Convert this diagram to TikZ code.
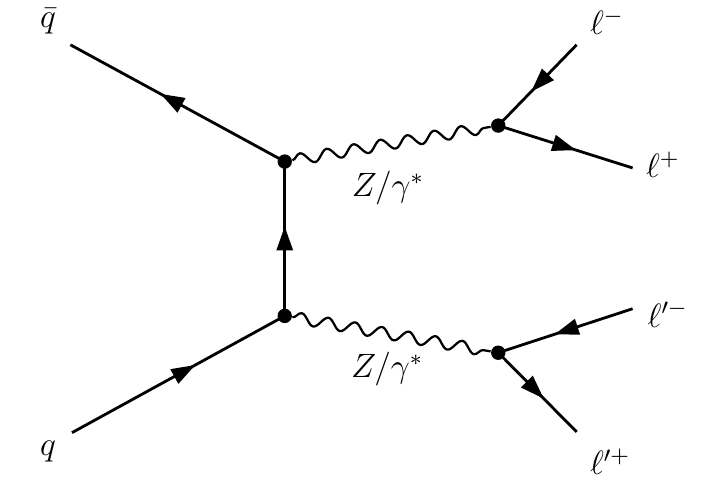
\documentclass[tikz,border=0pt]{standalone}
\usetikzlibrary{arrows.meta,decorations.markings,decorations.pathmorphing}

\begin{document}
\begin{tikzpicture}[
    fermion/.style={line width=1pt, postaction={decorate}, decoration={markings, mark=at position 0.58 with {\arrow{Triangle[length=3mm,width=2mm]}}}},
    boson/.style={line width=0.8pt, decorate, decoration={snake, segment length=3.4mm, amplitude=0.7mm}},
    vtx/.style={circle, fill=black, inner sep=0pt, minimum size=1.8mm},
    extlabel/.style={font=\large, inner sep=1pt}
  ]
    \useasboundingbox (0,0) rectangle (8.84,6.11);

    % vertices
    \node[vtx] (top) at (3.56,4.09) {};
    \node[vtx] (bot) at (3.56,2.16) {};
    \node[vtx] (dectop) at (6.23,4.54) {};
    \node[vtx] (decbot) at (6.23,1.70) {};

    % free ends
    \coordinate (qbarend) at (0.88,5.55);
    \coordinate (qend) at (0.90,0.70);
    \coordinate (lmend) at (7.21,5.55);
    \coordinate (lpend) at (7.91,4.01);
    \coordinate (lpmend) at (7.91,2.25);
    \coordinate (lppend) at (7.21,0.71);

    % labels
    \node[extlabel] (qbar) at (0.60,5.84) {$\bar{q}$};
    \node[extlabel] (q) at (0.60,0.46) {$q$};
    \node[extlabel] (lm) at (7.59,5.84) {$\ell^-$};
    \node[extlabel] (lp) at (8.29,4.05) {$\ell^+$};
    \node[extlabel] (lpm) at (8.35,2.18) {$\ell'^-$};
    \node[extlabel] (lpp) at (7.63,0.34) {$\ell'^+$};
    \node[font=\large] (ztop) at (4.85,3.76) {$Z/\gamma^*$};
    \node[font=\large] (zbot) at (4.84,1.49) {$Z/\gamma^*$};

    \draw[fermion] (top.center) -- (qbarend);
    \draw[fermion] (qend) -- (bot.center);
    \draw[fermion] (bot.center) -- (top.center);
    \draw[boson] (top) -- (dectop);
    \draw[boson] (bot) -- (decbot);
    \draw[fermion] (lmend) -- (dectop.center);
    \draw[fermion] (dectop.center) -- (lpend);
    \draw[fermion] (lpmend) -- (decbot.center);
    \draw[fermion] (decbot.center) -- (lppend);
  \end{tikzpicture}
\end{document}
